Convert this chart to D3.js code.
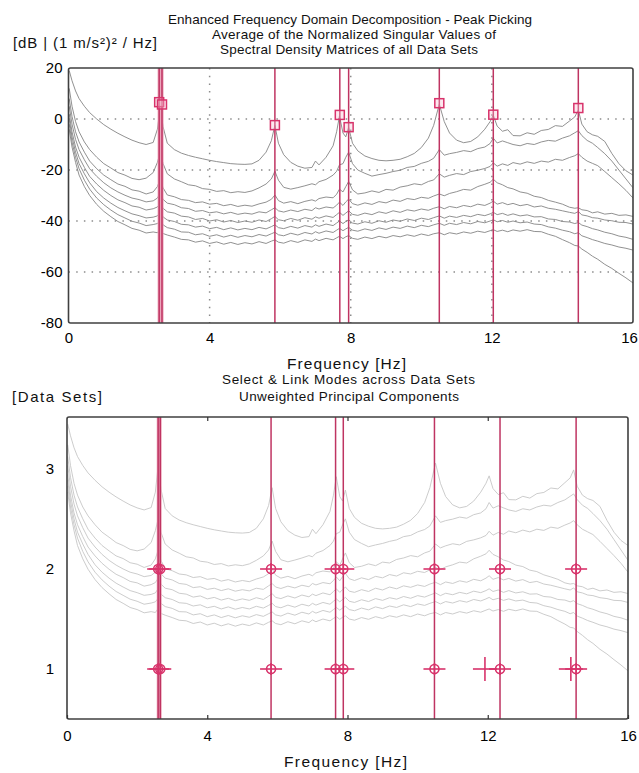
<!DOCTYPE html>
<html>
<head>
<meta charset="utf-8">
<script src="https://cdn.jsdelivr.net/npm/d3@7"></script>
<style>
  body { margin: 0; background: #fff; }
  svg { display: block; font-family: "Liberation Sans", Arial, sans-serif; }
</style>
</head>
<body>
<script>
// frequency grid (Hz) shared by all singular value curves
const freqs = [
  0.02, 0.1, 0.2, 0.3, 0.45, 0.6, 0.8, 1.0, 1.2, 1.4, 1.6, 1.8,
  2.0, 2.2, 2.4, 2.52, 2.6, 2.68, 2.8, 3.0, 3.2, 3.4, 3.6, 3.8,
  4.0, 4.2, 4.4, 4.6, 4.8, 5.0, 5.2, 5.4, 5.6, 5.75, 5.85, 5.95,
  6.1, 6.3, 6.5, 6.7, 6.9, 7.0, 7.1, 7.3, 7.5, 7.6, 7.68, 7.78,
  7.86, 7.94, 8.05, 8.2, 8.4, 8.6, 8.8, 9.0, 9.2, 9.4, 9.6, 9.8,
  10.0, 10.2, 10.35, 10.51, 10.65, 10.8, 11.0, 11.2, 11.4, 11.6, 11.8, 11.95,
  12.04, 12.15, 12.3, 12.45, 12.6, 12.8, 13.0, 13.2, 13.4, 13.6, 13.8, 14.0,
  14.2, 14.35, 14.45, 14.55, 14.7, 14.85, 15.0, 15.2, 15.4, 15.6, 15.8, 16.0
];

// normalized singular values, dB
const sv1 = [
  19, 15, 11, 8, 5, 2.5, 0, -2.2, -4, -5.6, -7, -8.3,
  -9.3, -10, -9.2, -4, 5, -3, -9.5, -12, -13.4, -14.3, -15, -15.6,
  -16.2, -16.7, -17.1, -17.5, -17.7, -17.8, -17.6, -16.2, -13, -8.5, -2.5, -9.5,
  -14, -17, -18.5, -19.3, -19, -16.5, -18, -15, -10.5, -5, 1.2, -5.5,
  -7, -3.3, -9.5, -12.5, -14.5, -15.5, -16.2, -16.4, -16.2, -15.8, -14.8, -13.5,
  -11.2, -7.5, -2.5, 5.8, -1, -5.5, -8.3, -9.3, -8.8, -7, -4, -1,
  1.5, -2.8, -4.8, -4.2, -6.5, -6.6, -5.4, -6.0, -4.5, -4.1, -2.6, -2.9,
  -0.8, 0.8, 3.5, -2, -5, -6.2, -6.8, -8.8, -13.5, -17.5, -20.3, -22
];
const sv2 = [
  12, 5, -1, -5, -9, -12, -15, -17.5, -19.2, -21, -22, -23.3,
  -23.8, -23.2, -21, -17, -13, -17.5, -21.5, -23.5, -24.6, -25.8, -26.2, -27.3,
  -27.6, -28.4, -28.1, -28.9, -28.5, -28.8, -28.2, -27, -25.5, -23.5, -20.5, -24,
  -26.8, -27.5, -26.9, -26.2, -25.4, -25.8, -24.6, -23.7, -22, -20.5, -18, -17.5,
  -15, -13, -17.5, -20, -21.3, -22.4, -21.8, -21.3, -20.6, -20.1, -19, -18.6,
  -17.4, -16.6, -15.4, -12, -14.2, -13.6, -13.1, -12.4, -12.8, -11.6, -11, -9.6,
  -7.5, -9.4, -8.6, -9.3, -10, -10.5, -9.6, -10, -9, -8.4, -8.7, -7.5,
  -6.6, -5.4, -4.6, -6.5, -8.4, -9.5, -11.2, -13.6, -16.5, -20, -23.5, -27
];
const sv3 = [
  8, 1, -5, -9, -13, -16.5, -19.5, -22, -23.8, -25.5, -26.4, -27.8,
  -28.3, -29.4, -28.6, -26.5, -23.5, -27, -29.8, -30.5, -31.6, -31.9, -32.8, -32.5,
  -33.4, -33.1, -34, -33.5, -34.3, -33.8, -34.2, -33.3, -32.6, -31.5, -29.8, -32,
  -33, -32.4, -33.2, -32.3, -31.7, -32.2, -31.2, -30.6, -30.9, -29.5, -27.5, -28.6,
  -26.5, -24.5, -27.8, -29.4, -29, -28.2, -28.8, -27.6, -27.9, -26.7, -26.2, -25.4,
  -25.8, -24.5, -23.9, -21.5, -22.8, -22.1, -21.4, -21.8, -20.6, -20.1, -19.4, -18.6,
  -17.2, -18.5, -17.6, -18.2, -17.1, -17.7, -16.8, -17.4, -16.5, -16.9, -15.8, -16.2,
  -15.1, -14.4, -13.6, -15, -16.5, -17.4, -18.3, -20.6, -23, -25.4, -28, -31
];
const sv4 = [
  5, -2, -8, -12, -16, -19.5, -22.5, -25, -27, -28.6, -29.9, -31,
  -31.6, -32.5, -32.1, -31, -29, -31.5, -33, -33.6, -34.8, -35.1, -36.2, -35.9,
  -36.8, -36.4, -37.2, -36.6, -37.4, -36.9, -37.3, -36.4, -36.8, -35.6, -34.8, -36,
  -36.5, -35.7, -36.3, -35.4, -35.9, -34.8, -35.3, -34.5, -34.9, -33.8, -32.6, -33.9,
  -32.5, -31.4, -33.2, -33.8, -32.9, -33.5, -32.4, -32.9, -31.8, -32.3, -31.2, -31.6,
  -30.7, -31.1, -30.2, -29.4, -30.1, -29.2, -28.5, -27.6, -27.9, -26.5, -25.6, -24.8,
  -23.6, -25, -25.8, -26.9, -27.4, -28.6, -29.1, -30.3, -30.8, -31.9, -32.6, -33.4,
  -34.6, -35, -34.8, -35.6, -35.9, -36.8, -36.4, -37.3, -37, -37.8, -37.6, -38.2
];
const sv5 = [
  2, -5, -11, -15, -19, -22.5, -25.5, -28, -30, -31.7, -32.8, -34.1,
  -34.6, -35.7, -35.2, -34.5, -33, -35, -36.4, -36.9, -38.1, -38.4, -39.4, -39,
  -40, -39.5, -40.4, -39.8, -40.6, -40, -40.5, -39.6, -40.2, -39.1, -38.2, -39.5,
  -39.9, -39, -39.7, -38.7, -39.3, -38.4, -38.9, -38, -38.6, -37.5, -36.6, -37.8,
  -36.9, -36, -37.4, -37.8, -36.9, -37.5, -36.4, -37, -36, -36.6, -35.6, -36.1,
  -35.3, -35.8, -35, -34.4, -35.2, -34.3, -34.8, -33.9, -34.4, -33.4, -33.9, -33,
  -32.2, -33.4, -32.8, -33.6, -33.1, -34, -33.5, -34.5, -34.1, -35, -35.4, -36,
  -36.6, -37, -36.3, -37.6, -38, -38.7, -38.9, -39.6, -39.9, -40.5, -40.6, -41.2
];
const sv6 = [
  0, -7, -13, -17.5, -21.5, -25, -28.5, -31, -33, -34.7, -36, -37.2,
  -37.9, -38.8, -38.5, -38, -36.5, -38.4, -39.6, -40.2, -41.3, -41.5, -42.4, -42,
  -43, -42.5, -43.4, -42.7, -43.5, -42.9, -43.4, -42.5, -43.1, -42.2, -41.5, -42.6,
  -43, -42.1, -42.8, -41.8, -42.4, -41.5, -42.1, -41.2, -41.8, -40.8, -40, -41,
  -40.2, -39.5, -40.8, -41.2, -40.3, -40.9, -39.9, -40.5, -39.6, -40.1, -39.2, -39.8,
  -38.9, -39.4, -38.7, -38, -38.9, -38.1, -38.6, -37.8, -38.3, -37.4, -37.9, -37.2,
  -36.6, -37.5, -37, -37.8, -37.2, -38, -37.6, -38.4, -38.3, -39.2, -39.4, -40.2,
  -40.4, -41, -40.6, -41.6, -42.2, -43, -43.5, -44.4, -45, -45.9, -46.4, -47.2
];
const sv7 = [
  -2, -9, -15, -19.5, -24, -27.5, -31, -33.6, -35.7, -37.5, -38.8, -40.1,
  -40.8, -41.8, -41.4, -41, -39.8, -41.5, -42.6, -43.2, -44.3, -44.4, -45.4, -45,
  -46, -45.4, -46.3, -45.6, -46.4, -45.7, -46.2, -45.3, -45.9, -45, -44.4, -45.4,
  -45.8, -44.8, -45.5, -44.5, -45.1, -44.2, -44.8, -43.9, -44.5, -43.6, -42.9, -43.8,
  -43.1, -42.5, -43.6, -44, -43.1, -43.7, -42.7, -43.3, -42.4, -42.9, -42, -42.6,
  -41.7, -42.2, -41.5, -40.9, -41.7, -40.9, -41.4, -40.6, -41.1, -40.2, -40.7, -40,
  -39.5, -40.3, -39.8, -40.5, -40, -40.7, -40.4, -41.2, -41.4, -42.3, -42.8, -43.6,
  -44.2, -45, -44.6, -45.8, -46.5, -47.3, -47.9, -48.8, -49.4, -50.2, -50.7, -51.4
];
const sv8 = [
  -4, -11, -17, -22, -26.5, -30, -33.5, -36.2, -38.3, -40.2, -41.5, -42.9,
  -43.6, -44.7, -44.3, -44.6, -43.2, -44.9, -45.5, -46.3, -47.2, -47.4, -48.3, -47.8,
  -48.8, -48.2, -49.1, -48.4, -49.2, -48.5, -49, -48.1, -48.8, -47.9, -47.4, -48.3,
  -48.7, -47.7, -48.4, -47.4, -48, -47.1, -47.7, -46.8, -47.4, -46.6, -46, -46.9,
  -46.2, -45.7, -46.8, -47.2, -46.3, -46.9, -46, -46.6, -45.7, -46.2, -45.4, -46,
  -45.1, -45.7, -45, -44.6, -45.4, -44.6, -45.1, -44.3, -44.8, -44, -44.5, -43.8,
  -43.4, -44.1, -43.6, -44.2, -43.5, -44, -43.4, -44.1, -44.2, -45.2, -46, -47.3,
  -48.5, -49.6, -49.8, -51, -52.3, -53.8, -55, -57, -58.6, -60.5, -62.3, -64.3
];
const curves = [sv1, sv2, sv3, sv4, sv5, sv6, sv7, sv8];

// picked peaks (top panel)
const peakFreqs = [2.57, 2.65, 5.85, 7.69, 7.94, 10.51, 12.04, 14.45];
const peakDb = [6.6, 5.7, -2.4, 1.6, -3.2, 6.2, 1.7, 4.3];
const peakBand = [2.61];

// linked modes (bottom panel)
const modeFreqs = [2.6, 2.66, 5.82, 7.66, 7.88, 10.48, 12.35, 14.52];
const modeBand = [2.63];
const dataSets = [1, 2];
const extraFreqs = [11.92, 14.37];   // single-set picks, data set 1

const freqTicks = [0, 4, 8, 12, 16];
const freqGrid = [4, 8, 12];
const dbTicks = [20, 0, -20, -40, -60, -80];
const dbGrid = [0, -20, -40, -60];
const setTicks = [1, 2, 3];

const W = 639, H = 773;
const svg = d3.select("body").append("svg").attr("width", W).attr("height", H);

const lineCol = "#bf3462", bandCol = "#eba6bb", markCol = "#d8336b";
const plain = d => `${d}`;   // keep ASCII hyphen-minus like the original

// ---------------- top panel ----------------
const x1 = d3.scaleLinear().domain([0, 16]).range([68.5, 633]);
const y1 = d3.scaleLinear().domain([-80, 20]).range([323, 68]);

svg.append("clipPath").attr("id", "clipTop")
  .append("rect").attr("x", x1(0)).attr("y", y1(20))
  .attr("width", x1(16) - x1(0)).attr("height", y1(-80) - y1(20));

const gTop = svg.append("g");

gTop.append("g").selectAll("line").data(dbGrid).join("line")
  .attr("x1", x1(0)).attr("x2", x1(16))
  .attr("y1", d => y1(d)).attr("y2", d => y1(d))
  .attr("stroke", "#8c8c8c").attr("stroke-width", 1.5)
  .attr("stroke-dasharray", "1.5,6.2");
gTop.append("g").selectAll("line").data(freqGrid).join("line")
  .attr("x1", d => x1(d)).attr("x2", d => x1(d))
  .attr("y1", y1(20)).attr("y2", y1(-80))
  .attr("stroke", "#8c8c8c").attr("stroke-width", 1.5)
  .attr("stroke-dasharray", "1.5,6.2");

const line1 = d3.line().x((d, i) => x1(freqs[i])).y(d => y1(d));
gTop.append("g").attr("clip-path", "url(#clipTop)")
  .selectAll("path").data(curves).join("path")
  .attr("d", line1).attr("fill", "none")
  .attr("stroke", "#858585").attr("stroke-width", 0.9);

gTop.append("g").selectAll("line").data(peakBand).join("line")
  .attr("x1", d => x1(d)).attr("x2", d => x1(d))
  .attr("y1", y1(20)).attr("y2", y1(-80))
  .attr("stroke", bandCol).attr("stroke-width", 6);
gTop.append("g").selectAll("line").data(peakFreqs).join("line")
  .attr("x1", d => x1(d)).attr("x2", d => x1(d))
  .attr("y1", y1(20)).attr("y2", y1(-80))
  .attr("stroke", lineCol).attr("stroke-width", 1.5);

gTop.append("g").selectAll("rect").data(peakFreqs).join("rect")
  .attr("x", d => x1(d) - 4.5)
  .attr("y", (d, i) => y1(peakDb[i]) - 4.5)
  .attr("width", 9).attr("height", 9)
  .attr("fill", "rgba(250,190,210,0.35)")
  .attr("stroke", markCol).attr("stroke-width", 1.5);

gTop.append("rect")
  .attr("x", x1(0)).attr("y", y1(20))
  .attr("width", x1(16) - x1(0)).attr("height", y1(-80) - y1(20))
  .attr("rx", 2).attr("fill", "none")
  .attr("stroke", "#404040").attr("stroke-width", 1.6);

const ax1 = gTop.append("g").attr("transform", `translate(0,${y1(-80)})`)
  .call(d3.axisBottom(x1).tickValues(freqTicks).tickSize(0).tickPadding(9).tickFormat(plain));
const ay1 = gTop.append("g").attr("transform", `translate(${x1(0)},0)`)
  .call(d3.axisLeft(y1).tickValues(dbTicks).tickSize(0).tickPadding(6).tickFormat(plain));
[ax1, ay1].forEach(a => {
  a.select(".domain").remove();
  a.selectAll("text").attr("font-size", 15).attr("fill", "#000")
    .attr("font-family", "Liberation Sans, Arial, sans-serif");
});
ax1.selectAll("text").filter(d => d === 16).attr("dx", -4);

// ---------------- bottom panel ----------------
const x2 = d3.scaleLinear().domain([0, 16]).range([67, 628]);
const y2 = d3.scaleLinear().domain([0.5, 3.52]).range([719, 417]);
// background spectra are overlaid on the data-set axis
const yc = d3.scaleLinear().domain([-65, 20]).range([673, 421]);

svg.append("clipPath").attr("id", "clipBot")
  .append("rect").attr("x", x2(0)).attr("y", y2(3.52))
  .attr("width", x2(16) - x2(0)).attr("height", y2(0.5) - y2(3.52));

const gBot = svg.append("g");

const line2 = d3.line().x((d, i) => x2(freqs[i])).y(d => yc(d));
gBot.append("g").attr("clip-path", "url(#clipBot)")
  .selectAll("path").data(curves).join("path")
  .attr("d", line2).attr("fill", "none")
  .attr("stroke", "#c6c6c6").attr("stroke-width", 0.9);

gBot.append("g").selectAll("line").data(modeBand).join("line")
  .attr("x1", d => x2(d)).attr("x2", d => x2(d))
  .attr("y1", y2(3.52)).attr("y2", y2(0.5))
  .attr("stroke", bandCol).attr("stroke-width", 5);
gBot.append("g").selectAll("line").data(modeFreqs).join("line")
  .attr("x1", d => x2(d)).attr("x2", d => x2(d))
  .attr("y1", y2(3.52)).attr("y2", y2(0.5))
  .attr("stroke", lineCol).attr("stroke-width", 1.5);

const marks = dataSets.flatMap(s => modeFreqs.map(f => ({ f, s })));
const mk = gBot.append("g").selectAll("g").data(marks).join("g")
  .attr("transform", d => `translate(${x2(d.f)},${y2(d.s)})`)
  .attr("stroke", markCol).attr("stroke-width", 1.6).attr("fill", "none");
mk.append("line").attr("x1", -11).attr("x2", 11);
mk.append("line").attr("y1", -6).attr("y2", 6);
mk.append("circle").attr("r", 4.5);

const cr = gBot.append("g").selectAll("g").data(extraFreqs).join("g")
  .attr("transform", d => `translate(${x2(d)},${y2(1)})`)
  .attr("stroke", markCol).attr("stroke-width", 1.6);
cr.append("line").attr("x1", -12).attr("x2", 12);
cr.append("line").attr("y1", -12).attr("y2", 12);

gBot.append("rect")
  .attr("x", x2(0)).attr("y", y2(3.52))
  .attr("width", x2(16) - x2(0)).attr("height", y2(0.5) - y2(3.52))
  .attr("rx", 2).attr("fill", "none")
  .attr("stroke", "#404040").attr("stroke-width", 1.6);

const ax2 = gBot.append("g").attr("transform", `translate(0,${y2(0.5)})`)
  .call(d3.axisBottom(x2).tickValues(freqTicks).tickSizeInner(-4).tickSizeOuter(0).tickPadding(11).tickFormat(plain));
const axT = gBot.append("g").attr("transform", `translate(0,${y2(3.52)})`)
  .call(d3.axisTop(x2).tickValues(freqGrid).tickSizeInner(-4).tickSizeOuter(0).tickFormat(""));
const ay2 = gBot.append("g").attr("transform", `translate(${x2(0)},0)`)
  .call(d3.axisLeft(y2).tickValues(setTicks).tickSize(0).tickPadding(13).tickFormat(plain));
[ax2, axT, ay2].forEach(a => {
  a.select(".domain").remove();
  a.selectAll("line").attr("stroke", "#333").attr("stroke-width", 1.2);
  a.selectAll("text").attr("font-size", 15).attr("fill", "#000")
    .attr("font-family", "Liberation Sans, Arial, sans-serif");
});

// ---------------- texts ----------------
const labels = [
  { t: "Enhanced Frequency Domain Decomposition - Peak Picking", x: 350, y: 24, s: 13.5, w: 364, a: "middle" },
  { t: "Average of the Normalized Singular Values of", x: 354, y: 39, s: 13.5, w: 284, a: "middle" },
  { t: "Spectral Density Matrices of all Data Sets", x: 349, y: 54, s: 13.5, w: 258, a: "middle" },
  { t: "[dB | (1 m/s²)² / Hz]", x: 13, y: 48, s: 15, w: 144, a: "start" },
  { t: "Frequency [Hz]", x: 346.5, y: 369, s: 15.5, w: 119, a: "middle" },
  { t: "Select & Link Modes across Data Sets", x: 348.5, y: 384, s: 13.5, w: 253, a: "middle" },
  { t: "Unweighted Principal Components", x: 349, y: 401, s: 13.5, w: 220, a: "middle" },
  { t: "[Data Sets]", x: 12, y: 402, s: 15, w: 90, a: "start" },
  { t: "Frequency [Hz]", x: 345.5, y: 767, s: 15.5, w: 123, a: "middle" }
];
svg.append("g").selectAll("text").data(labels).join("text")
  .attr("x", d => d.x).attr("y", d => d.y)
  .attr("font-size", d => d.s).attr("text-anchor", d => d.a)
  .attr("textLength", d => d.w).attr("lengthAdjust", "spacing")
  .attr("fill", "#111")
  .text(d => d.t);
</script>
</body>
</html>
